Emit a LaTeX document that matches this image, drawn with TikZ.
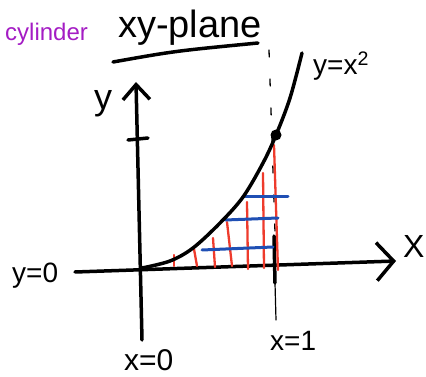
\documentclass[tikz,border=0pt]{standalone}
\usepackage{fontspec}
\setmainfont{Liberation Sans}
\usepackage{tikz}
\usetikzlibrary{arrows.meta}
\definecolor{sketchPurple}{HTML}{A41CC4}
\definecolor{sketchRed}{HTML}{EE3B2C}
\definecolor{sketchBlue}{HTML}{1F4FB4}

\begin{document}
\begin{tikzpicture}[x=1pt, y=-1pt, line cap=round, line join=round,
    axis/.style={line width=3.5pt},
    hatch/.style={sketchRed, line width=2.3pt},
    strip/.style={sketchBlue, line width=3pt},
    lbl/.style={inner sep=0pt, anchor=base west}]
    \useasboundingbox (0,0) rectangle (426,377);
    % labels
    \node[lbl, sketchPurple, font=\fontsize{24}{26}\selectfont] (cyl) at (5,41) {cylinder};
    \node[lbl, font=\fontsize{38}{40}\selectfont] (title) at (118,38) {xy-plane};
    \draw[line width=3.5pt] (113,62) .. controls (175,51) .. (258,43);
    \node[lbl, font=\fontsize{28}{30}\selectfont] (parab) at (313,75) {y=x\textsuperscript{2}};
    \node[lbl, font=\fontsize{28}{30}\selectfont] (yzero) at (12,282) {y=0};
    \node[lbl, font=\fontsize{30}{32}\selectfont] (xzero) at (124,370) {x=0};
    \node[lbl, font=\fontsize{28}{30}\selectfont] (xone) at (270,350) {x=1};
    \node[lbl, font=\fontsize{32}{34}\selectfont] (xlab) at (403,257) {X};
    \node[lbl, font=\fontsize{36}{38}\selectfont] (ylab) at (94,110) {y};
    % axes
    \draw[axis, -{Straight Barb[length=17pt, width=38pt]}] (75,272) -- (396,261);
    \draw[axis, -{Straight Barb[length=15pt, width=27pt]}] (142,340) -- (136,82);
    \draw[axis] (128,140) -- (148,138);
    % line x=1
    \draw[line width=1.3pt, dash pattern=on 7pt off 22pt] (269,50) -- (275,232);
    \draw[axis] (274,236) -- (275,283);
    \draw[line width=1.2pt] (275,283) -- (276,320);
    % slices
    \foreach \xa/\ya/\xb/\yb in {174/255/174/266, 194/249/197/266, 213/238/215/267,
        227/222/232/266, 247/202/248/269, 263/173/264/268, 274/145/278/270}
        \draw[hatch] (\xa,\ya) -- (\xb,\yb);
    \foreach \xa/\ya/\xb/\yb in {243/197/288/197, 225/220/278/218, 202/250/273/247}
        \draw[strip] (\xa,\ya) -- (\xb,\yb);
    % y = x^2
    \draw[axis] plot[smooth, tension=0.55] coordinates {(142,268) (170,261) (193,248)
        (220,223) (243,197) (263,163) (276,135) (290,98) (302,53)};
    \fill (276,135) circle (5.5pt);
\end{tikzpicture}
\end{document}
